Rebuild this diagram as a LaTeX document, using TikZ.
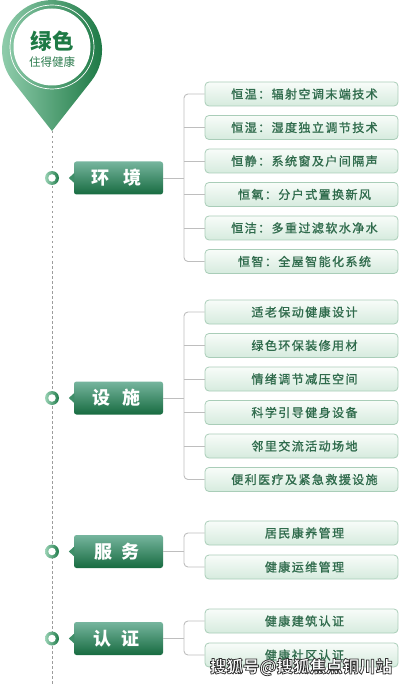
\documentclass[tikz,border=0pt]{standalone}
\usepackage{fontspec}
\setmainfont{Noto Sans CJK SC}
\newfontfamily\itemfont[LetterSpace=12,FakeBold=1.2]{Noto Sans CJK SC}
\newfontfamily\catfont{Noto Sans CJK SC}
\usetikzlibrary{calc}
\definecolor{dkgreen}{HTML}{1E7A45}
\definecolor{subgreen}{HTML}{2E7D50}
\definecolor{pinlight}{HTML}{93CFAF}
\definecolor{pindark}{HTML}{17743F}
\definecolor{itemtext}{HTML}{2F6B4C}
\definecolor{itemborder}{HTML}{A9CDB8}
\definecolor{itemtop}{HTML}{F8FCF9}
\definecolor{itembot}{HTML}{D6EBDE}
\definecolor{cattop}{HTML}{76B59E}
\definecolor{catbot}{HTML}{176B40}
\definecolor{catmid}{HTML}{3E8E68}
\definecolor{brack}{HTML}{BEBEBE}
\definecolor{dashc}{HTML}{9C9C9C}
\definecolor{mlight}{HTML}{9BD3B6}
\definecolor{mdark}{HTML}{1D7A48}
\newcommand{\wmtext}{搜狐号@搜狐焦点铜川站}
\tikzset{
  catbox/.style={rectangle, rounded corners=2.5pt, minimum width=89pt, minimum height=33pt,
    inner sep=0pt, top color=cattop, bottom color=catbot, text=white,
    font=\catfont\bfseries\fontsize{18}{18}\selectfont},
  itembox/.style={rectangle, rounded corners=4pt, minimum width=193pt, minimum height=24pt,
    inner sep=0pt, draw=itemborder, line width=0.8pt, top color=itemtop, bottom color=itembot,
    text=itemtext, font=\itemfont\fontsize{12}{12}\selectfont},
  marker/.style={circle, minimum size=14pt, inner sep=0pt, left color=mlight, right color=mdark},
  markerhole/.style={circle, minimum size=7.5pt, inner sep=0pt, fill=white},
  brk/.style={draw=brack, line width=0.9pt, rounded corners=4pt},
}
\begin{document}
\begin{tikzpicture}[x=1pt,y=-1pt]
\useasboundingbox (0,0) rectangle (401,684);
% dashed timeline
\coordinate (tip) at (52,131);
\coordinate (bottom) at (52,684);
\draw[dashc, line width=0.9pt, dash pattern=on 2.5pt off 2.5pt] (tip) -- (bottom);
% pin
\shade[left color=pinlight, right color=pindark]
  (12.6,80.9) -- (tip) -- (91.4,80.9) arc[start angle=38.1, end angle=-218.1, radius=50] -- cycle;
\draw[white, line width=0.7pt] (52,47) circle[radius=42];
\fill[white] (52,47) circle[radius=38.5];
\node (title) at (52,41) {\bfseries\fontsize{21.5}{21.5}\selectfont\color{dkgreen}绿色};
\node (subtitle) at (52,62) {\fontsize{11.5}{11.5}\selectfont\color{subgreen}住得健康};
% bracket x
\coordinate (bx) at (184,0);
% ---------- group 1
\node[marker] (m1) at (52,178) {};
\node[markerhole] at (m1) {};
\node[catbox] (c1) at (118.5,178) {环\hspace{15pt}境\hspace*{4pt}};
\fill[catmid] ($(c1.west)+(0.5,-5)$) -- ($(c1.west)+(-5,0)$) -- ($(c1.west)+(0.5,5)$) -- cycle;
\foreach \n/\y/\t in {1/94/恒温：辐射空调末端技术, 2/127.5/恒湿：湿度独立调节技术, 3/161/恒静：系统窗及户间隔声,
  4/194.5/恒氧：分户式置换新风, 5/228/恒洁：多重过滤软水净水, 6/261.5/恒智：全屋智能化系统}
  \node[itembox] (a\n) at (301.5,\y) {\hspace*{6pt}\t};
\draw[brk] (a1.west) -- (a1.west -| bx) -- (a6.west -| bx) -- (a6.west);
\foreach \n in {2,...,5} \draw[brk] (a\n.west -| bx) -- (a\n.west);
\draw[brk] (c1.east) -- (c1.east -| bx);
% ---------- group 2
\node[marker] (m2) at (52,398) {};
\node[markerhole] at (m2) {};
\node[catbox] (c2) at (118.5,398) {设\hspace{12pt}施\hspace*{4pt}};
\fill[catmid] ($(c2.west)+(0.5,-5)$) -- ($(c2.west)+(-5,0)$) -- ($(c2.west)+(0.5,5)$) -- cycle;
\foreach \n/\y/\t in {1/312/适老保动健康设计, 2/345.5/绿色环保装修用材, 3/379/情绪调节减压空间,
  4/412.5/科学引导健身设备, 5/446/邻里交流活动场地, 6/479.5/便利医疗及紧急救援设施}
  \node[itembox] (b\n) at (301.5,\y) {\hspace*{6pt}\t};
\draw[brk] (b1.west) -- (b1.west -| bx) -- (b6.west -| bx) -- (b6.west);
\foreach \n in {2,...,5} \draw[brk] (b\n.west -| bx) -- (b\n.west);
\draw[brk] (c2.east) -- (c2.east -| bx);
% ---------- group 3
\node[marker] (m3) at (52,551.5) {};
\node[markerhole] at (m3) {};
\node[catbox] (c3) at (118.5,551.5) {服\hspace{9pt}务\hspace*{4pt}};
\fill[catmid] ($(c3.west)+(0.5,-5)$) -- ($(c3.west)+(-5,0)$) -- ($(c3.west)+(0.5,5)$) -- cycle;
\node[itembox] (s1) at (301.5,533) {\hspace*{6pt}居民康养管理};
\node[itembox] (s2) at (301.5,567) {\hspace*{6pt}健康运维管理};
\draw[brk] (s1.west) -- (s1.west -| bx) -- (s2.west -| bx) -- (s2.west);
\draw[brk] (c3.east) -- (c3.east -| bx);
% ---------- group 4
\node[marker] (m4) at (52,638.5) {};
\node[markerhole] at (m4) {};
\node[catbox] (c4) at (118.5,638.5) {认\hspace{10pt}证\hspace*{4pt}};
\fill[catmid] ($(c4.west)+(0.5,-5)$) -- ($(c4.west)+(-5,0)$) -- ($(c4.west)+(0.5,5)$) -- cycle;
\node[itembox] (r1) at (301.5,621) {\hspace*{6pt}健康建筑认证};
\node[itembox] (r2) at (301.5,655) {\hspace*{6pt}健康社区认证};
\draw[brk] (r1.west) -- (r1.west -| bx) -- (r2.west -| bx) -- (r2.west);
\draw[brk] (c4.east) -- (c4.east -| bx);
% watermark (one node, white text with dark stroke)
\node[text=white, font=\catfont\bfseries\fontsize{16.5}{16.5}\selectfont] (wm) at (301,667)
  {\special{pdf:literal 0.2 0.2 0.2 RG 0.75 w 2 Tr}\wmtext\special{pdf:literal 0 Tr}};
\end{tikzpicture}
\end{document}
